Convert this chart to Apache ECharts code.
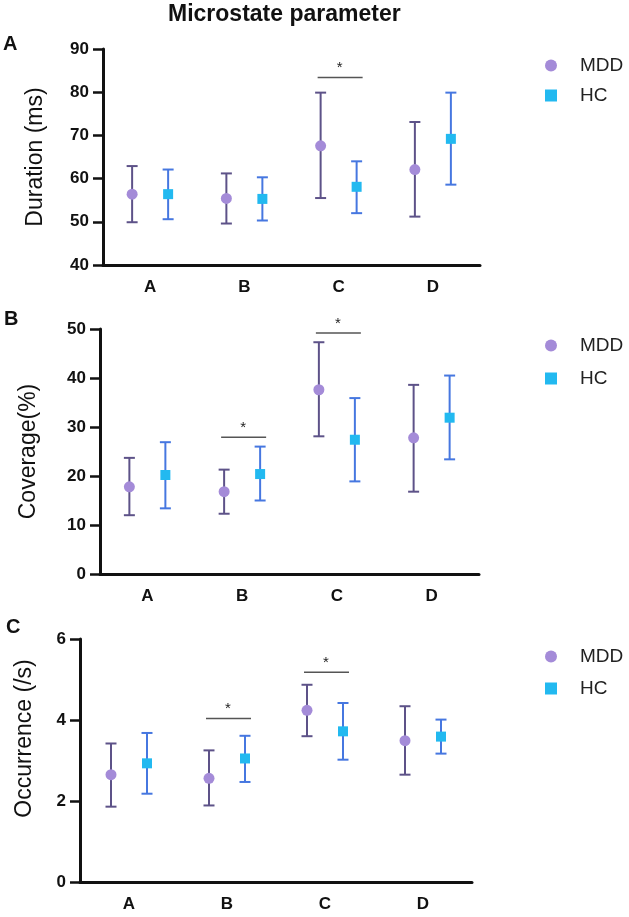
<!DOCTYPE html>
<html>
<head>
<meta charset="utf-8">
<title>Microstate parameter</title>
<script src="https://cdn.jsdelivr.net/npm/echarts@6/dist/echarts.min.js"></script>
<style>
  html, body { margin: 0; padding: 0; background: #fff; }
  #chart { width: 629px; height: 917px; }
</style>
</head>
<body>
<div id="chart"></div>
<script>
// categories (microstate classes)
const categories = ['A', 'B', 'C', 'D'];

// Duration (ms)
const durMddMean = [56.4, 55.4, 67.6, 62.1];
const durMddLow  = [49.9, 49.6, 55.5, 51.2];
const durMddHigh = [62.9, 61.2, 79.9, 73.1];
const durHcMean  = [56.4, 55.3, 58.1, 69.2];
const durHcLow   = [50.6, 50.3, 52.0, 58.6];
const durHcHigh  = [62.1, 60.3, 64.0, 79.9];
const durSig     = [[2, 83.4]];

// Coverage (%)
const covMddMean = [17.8, 16.8, 37.6, 27.8];
const covMddLow  = [12.0, 12.3, 28.1, 16.8];
const covMddHigh = [23.7, 21.3, 47.3, 38.6];
const covHcMean  = [20.2, 20.4, 27.4, 31.9];
const covHcLow   = [13.4, 15.0, 18.9, 23.4];
const covHcHigh  = [26.9, 26.0, 35.9, 40.5];
const covSig     = [[1, 27.9], [2, 49.2]];

// Occurrence (/s)
const occMddMean = [2.65, 2.56, 4.24, 3.49];
const occMddLow  = [1.86, 1.89, 3.60, 2.65];
const occMddHigh = [3.42, 3.25, 4.87, 4.34];
const occHcMean  = [2.93, 3.05, 3.72, 3.59];
const occHcLow   = [2.18, 2.47, 3.02, 3.17];
const occHcHigh  = [3.68, 3.61, 4.42, 4.01];
const occSig     = [[1, 4.04], [2, 5.18]];

// y axis ticks: min, max, step
const durTicks = [40, 90, 10];
const covTicks = [0, 50, 10];
const occTicks = [0, 6, 2];

const FONT = '"Liberation Sans", Arial, sans-serif';
const mddDot = '#a48bd8', mddBar = '#5d5288';
const hcDot = '#22b9f0', hcBar = '#4677e0';
const OFF = 18; // horizontal shift of the two groups from the tick

const panels = [
  { name: 'Duration (ms)', ticks: durTicks,
    mdd: [durMddMean, durMddLow, durMddHigh], hc: [durHcMean, durHcLow, durHcHigh], sig: durSig,
    grid: { left: 103, top: 49, width: 377, height: 216 },
    nameGap: 56, namePad: [0, 0, 0, 0], legendTop: 51, legendGap: 11 },
  { name: 'Coverage(%)', ticks: covTicks,
    mdd: [covMddMean, covMddLow, covMddHigh], hc: [covHcMean, covHcLow, covHcHigh], sig: covSig,
    grid: { left: 100, top: 329, width: 379, height: 245 },
    nameGap: 60, namePad: [0, 0, 0, 0], legendTop: 331, legendGap: 14 },
  { name: 'Occurrence (/s)', ticks: occTicks,
    mdd: [occMddMean, occMddLow, occMddHigh], hc: [occHcMean, occHcLow, occHcHigh], sig: occSig,
    grid: { left: 80, top: 639, width: 392, height: 243 },
    nameGap: 44, namePad: [0, 0, 0, 44], legendTop: 642, legendGap: 13 }
];

function errBars(color, shift) {
  return function (params, api) {
    const lo = api.coord([api.value(0), api.value(1)]);
    const hi = api.coord([api.value(0), api.value(2)]);
    const x = lo[0] + shift;
    const st = { stroke: color, lineWidth: 2 };
    return {
      type: 'group',
      children: [
        { type: 'line', shape: { x1: x, y1: lo[1], x2: x, y2: hi[1] }, style: st },
        { type: 'line', shape: { x1: x - 5.5, y1: lo[1], x2: x + 5.5, y2: lo[1] }, style: st },
        { type: 'line', shape: { x1: x - 5.5, y1: hi[1], x2: x + 5.5, y2: hi[1] }, style: st }
      ]
    };
  };
}

function sigMark(params, api) {
  const p = api.coord([api.value(0), api.value(1)]);
  return {
    type: 'group',
    children: [
      { type: 'line', shape: { x1: p[0] - 21, y1: p[1], x2: p[0] + 24, y2: p[1] },
        style: { stroke: '#555', lineWidth: 1.5 } },
      { type: 'text', x: p[0] + 1, y: p[1] - 2,
        style: { text: '*', fontSize: 15, fontFamily: FONT, fill: '#222', align: 'center', verticalAlign: 'bottom' } }
    ]
  };
}

const grids = [], xAxes = [], yAxes = [], series = [], legends = [];

panels.forEach((p, i) => {
  grids.push(p.grid);
  xAxes.push({
    type: 'category', gridIndex: i, data: categories,
    axisLine: { lineStyle: { color: '#111', width: 3 } },
    axisTick: { alignWithLabel: true, length: 7, lineStyle: { color: '#111', width: 2.5 } },
    axisLabel: { color: '#111', fontSize: 17, fontWeight: 'bold', fontFamily: FONT, margin: 14 },
    splitLine: { show: false }
  });
  yAxes.push({
    type: 'value', gridIndex: i, min: p.ticks[0], max: p.ticks[1], interval: p.ticks[2],
    name: p.name, nameLocation: 'middle', nameGap: p.nameGap,
    nameTextStyle: { fontSize: 23, color: '#111', fontFamily: FONT, padding: p.namePad },
    axisLine: { show: true, lineStyle: { color: '#111', width: 3 } },
    axisTick: { show: true, length: 10, lineStyle: { color: '#111', width: 2.5 } },
    axisLabel: { color: '#111', fontSize: 17, fontWeight: 'bold', fontFamily: FONT, margin: 14 },
    splitLine: { show: false }
  });
  series.push(
    { type: 'custom', xAxisIndex: i, yAxisIndex: i, renderItem: errBars(mddBar, -OFF),
      data: categories.map((c, k) => [k, p.mdd[1][k], p.mdd[2][k]]), z: 2, silent: true },
    { type: 'custom', xAxisIndex: i, yAxisIndex: i, renderItem: errBars(hcBar, OFF),
      data: categories.map((c, k) => [k, p.hc[1][k], p.hc[2][k]]), z: 2, silent: true },
    { name: 'MDD', type: 'scatter', xAxisIndex: i, yAxisIndex: i, symbol: 'circle', symbolSize: 11,
      symbolOffset: [-OFF, 0], itemStyle: { color: mddDot, opacity: 1 }, z: 3,
      data: p.mdd[0] },
    { name: 'HC', type: 'scatter', xAxisIndex: i, yAxisIndex: i, symbol: 'rect', symbolSize: 10,
      symbolOffset: [OFF, 0], itemStyle: { color: hcDot, opacity: 1 }, z: 3,
      data: p.hc[0] },
    { type: 'custom', xAxisIndex: i, yAxisIndex: i, renderItem: sigMark, data: p.sig, z: 4, silent: true }
  );
  legends.push({
    data: ['MDD', 'HC'], orient: 'vertical', left: 540, top: p.legendTop,
    itemWidth: 12, itemHeight: 12, itemGap: p.legendGap,
    textStyle: { fontSize: 19, color: '#222', fontFamily: FONT, padding: [0, 0, 0, 18] }
  });
});

const chart = echarts.init(document.getElementById('chart'));
chart.setOption({
  animation: false,
  backgroundColor: '#fff',
  grid: grids,
  xAxis: xAxes,
  yAxis: yAxes,
  legend: legends,
  series: series,
  graphic: [
    { type: 'text', left: 168, top: 3,
      style: { text: 'Microstate parameter', fontSize: 23, fontWeight: 'bold', fontFamily: FONT, fill: '#111' } },
    { type: 'text', left: 3, top: 34,
      style: { text: 'A', fontSize: 20, fontWeight: 'bold', fontFamily: FONT, fill: '#111' } },
    { type: 'text', left: 4, top: 309,
      style: { text: 'B', fontSize: 20, fontWeight: 'bold', fontFamily: FONT, fill: '#111' } },
    { type: 'text', left: 6, top: 617,
      style: { text: 'C', fontSize: 20, fontWeight: 'bold', fontFamily: FONT, fill: '#111' } }
  ]
});
</script>
</body>
</html>
